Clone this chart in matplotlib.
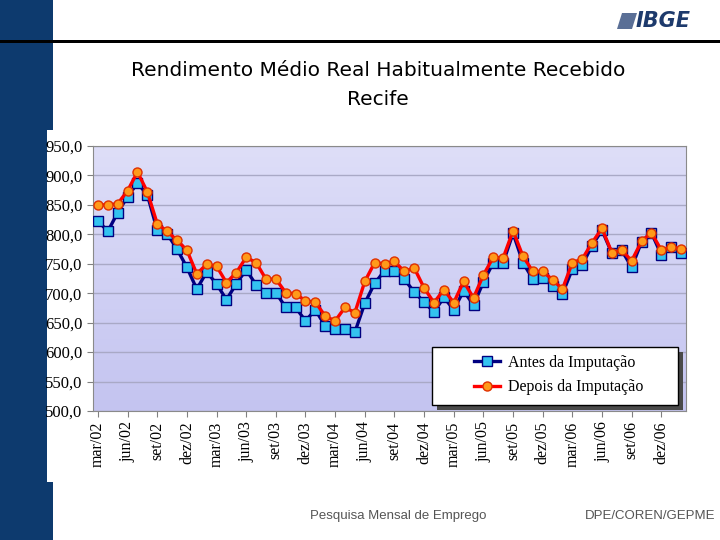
import numpy as np
import matplotlib
matplotlib.use("Agg")
import matplotlib.pyplot as plt
from matplotlib.patches import Rectangle, Polygon

# monthly series, mar/02 .. fev/07
months = ["mar", "abr", "mai", "jun", "jul", "ago", "set", "out", "nov", "dez", "jan", "fev"]
start_year = 2
n_points = 60

antes = [823, 805, 837, 864, 887, 867, 807, 801, 775, 744,
         707, 736, 716, 689, 716, 740, 714, 701, 701, 676,
         676, 653, 672, 644, 639, 639, 634, 683, 717, 738,
         738, 724, 702, 685, 668, 693, 672, 704, 680, 719,
         752, 752, 802, 752, 724, 726, 713, 699, 741, 748,
         781, 807, 768, 773, 744, 787, 803, 765, 778, 769]

depois = [850, 850, 852, 874, 906, 872, 818, 805, 790, 773,
          733, 749, 746, 718, 735, 761, 752, 724, 724, 701,
          699, 687, 685, 661, 653, 676, 667, 720, 752, 750,
          754, 737, 743, 709, 684, 706, 684, 720, 692, 731,
          761, 760, 806, 763, 737, 737, 723, 707, 752, 758,
          786, 810, 769, 773, 755, 788, 803, 773, 779, 775]

labels = []
for i in range(n_points):
    yr = start_year + (i + 2) // 12
    labels.append(f"{months[i % 12]}/{yr:02d}")

y_ticks = np.arange(500, 951, 50)

fig = plt.figure(figsize=(7.2, 5.4), dpi=100)
fig.patch.set_facecolor("white")

# page decorations (behind the axes)
fig.patches.append(Rectangle((0, 0), 53 / 720, 1, transform=fig.transFigure,
                             facecolor="#0d3a6e", edgecolor="none", zorder=-3))
# white chart picture pasted over the bar
fig.patches.append(Rectangle((47 / 720, 1 - 482 / 540), 645 / 720, 352 / 540,
                             transform=fig.transFigure, facecolor="white",
                             edgecolor="none", zorder=-2))
fig.patches.append(Rectangle((0, 1 - 43 / 540), 1, 3 / 540, transform=fig.transFigure,
                             facecolor="black", edgecolor="none", zorder=-1))
# IBGE logo
fig.patches.append(Polygon([(617 / 720, 1 - 29 / 540), (622 / 720, 1 - 13 / 540),
                            (637 / 720, 1 - 13 / 540), (632 / 720, 1 - 29 / 540)],
                           closed=True, transform=fig.transFigure,
                           facecolor="#5a6f96", edgecolor="none", zorder=-1))
fig.text(636 / 720, 1 - 21 / 540, "IBGE", fontsize=15, fontweight="bold", style="italic",
         color="#1d3a6c", ha="left", va="center", family="DejaVu Sans")

fig.text(378 / 720, 1 - 70 / 540, "Rendimento Médio Real Habitualmente Recebido",
         fontsize=14.5, ha="center", va="center", family="DejaVu Sans")
fig.text(378 / 720, 1 - 100 / 540, "Recife", fontsize=14.5, ha="center", va="center",
         family="DejaVu Sans")
fig.text(398 / 720, 1 - 516 / 540, "Pesquisa Mensal de Emprego", fontsize=9.5,
         color="#555555", ha="center", va="center", family="Liberation Sans")
fig.text(650 / 720, 1 - 516 / 540, "DPE/COREN/GEPME", fontsize=9.5,
         color="#555555", ha="center", va="center", family="Liberation Sans")

ax = fig.add_axes([93 / 720, 1 - 411 / 540, 593 / 720, 265 / 540])
x = np.arange(n_points)

# gradient plot background
grad = np.linspace(0, 1, 256).reshape(-1, 1)
top = np.array([222, 222, 248]) / 255
bot = np.array([196, 196, 240]) / 255
img = top + (bot - top) * grad[..., None]
ax.imshow(img, extent=(-0.5, n_points - 0.5, 500, 950), aspect="auto",
          origin="upper", zorder=0)

ax.set_xlim(-0.5, n_points - 0.5)
ax.set_ylim(500, 950)
ax.set_yticks(y_ticks)
ax.set_yticklabels([f"{v:.1f}".replace(".", ",") for v in y_ticks],
                   family="Liberation Serif", fontsize=12)
ax.yaxis.grid(True, color="#a9a9c6", lw=1, zorder=1)
ax.set_axisbelow(True)

ax.set_xticks(x[::3])
ax.set_xticklabels(labels[::3], rotation=90, family="Liberation Serif", fontsize=11.5)
ax.tick_params(axis="both", color="#808080", length=4)

for s in ax.spines.values():
    s.set_color("#8a8a8a")

ax.plot(x, antes, color="#000080", lw=2.4, marker="s", ms=6.5,
        mfc="#33c3f0", mec="#000080", mew=1, label="Antes da Imputação", zorder=3)
ax.plot(x, depois, color="#ff0000", lw=2.4, marker="o", ms=6.5,
        mfc="#ff9a1a", mec="#e03000", mew=1, label="Depois da Imputação", zorder=4)

# legend box with drop shadow, drawn in axes coordinates
bx0, by0, bw, bh = 0.5717, 0.0226, 0.4148, 0.2189
ax.add_patch(Rectangle((bx0 + 0.008, by0 - 0.017), bw, bh, transform=ax.transAxes,
                       facecolor="#4a4a4a", edgecolor="none", zorder=5))
ax.add_patch(Rectangle((bx0, by0), bw, bh, transform=ax.transAxes,
                       facecolor="white", edgecolor="black", lw=1, zorder=6))
leg = ax.legend(loc="center left", bbox_to_anchor=(0.629, 0.1358), frameon=False,
                prop={"family": "Liberation Serif", "size": 11.5}, borderpad=0,
                handlelength=1.6, handletextpad=0.5, labelspacing=0.55)
leg.set_zorder(7)

fig.savefig("out.png", dpi=100, facecolor="white")
